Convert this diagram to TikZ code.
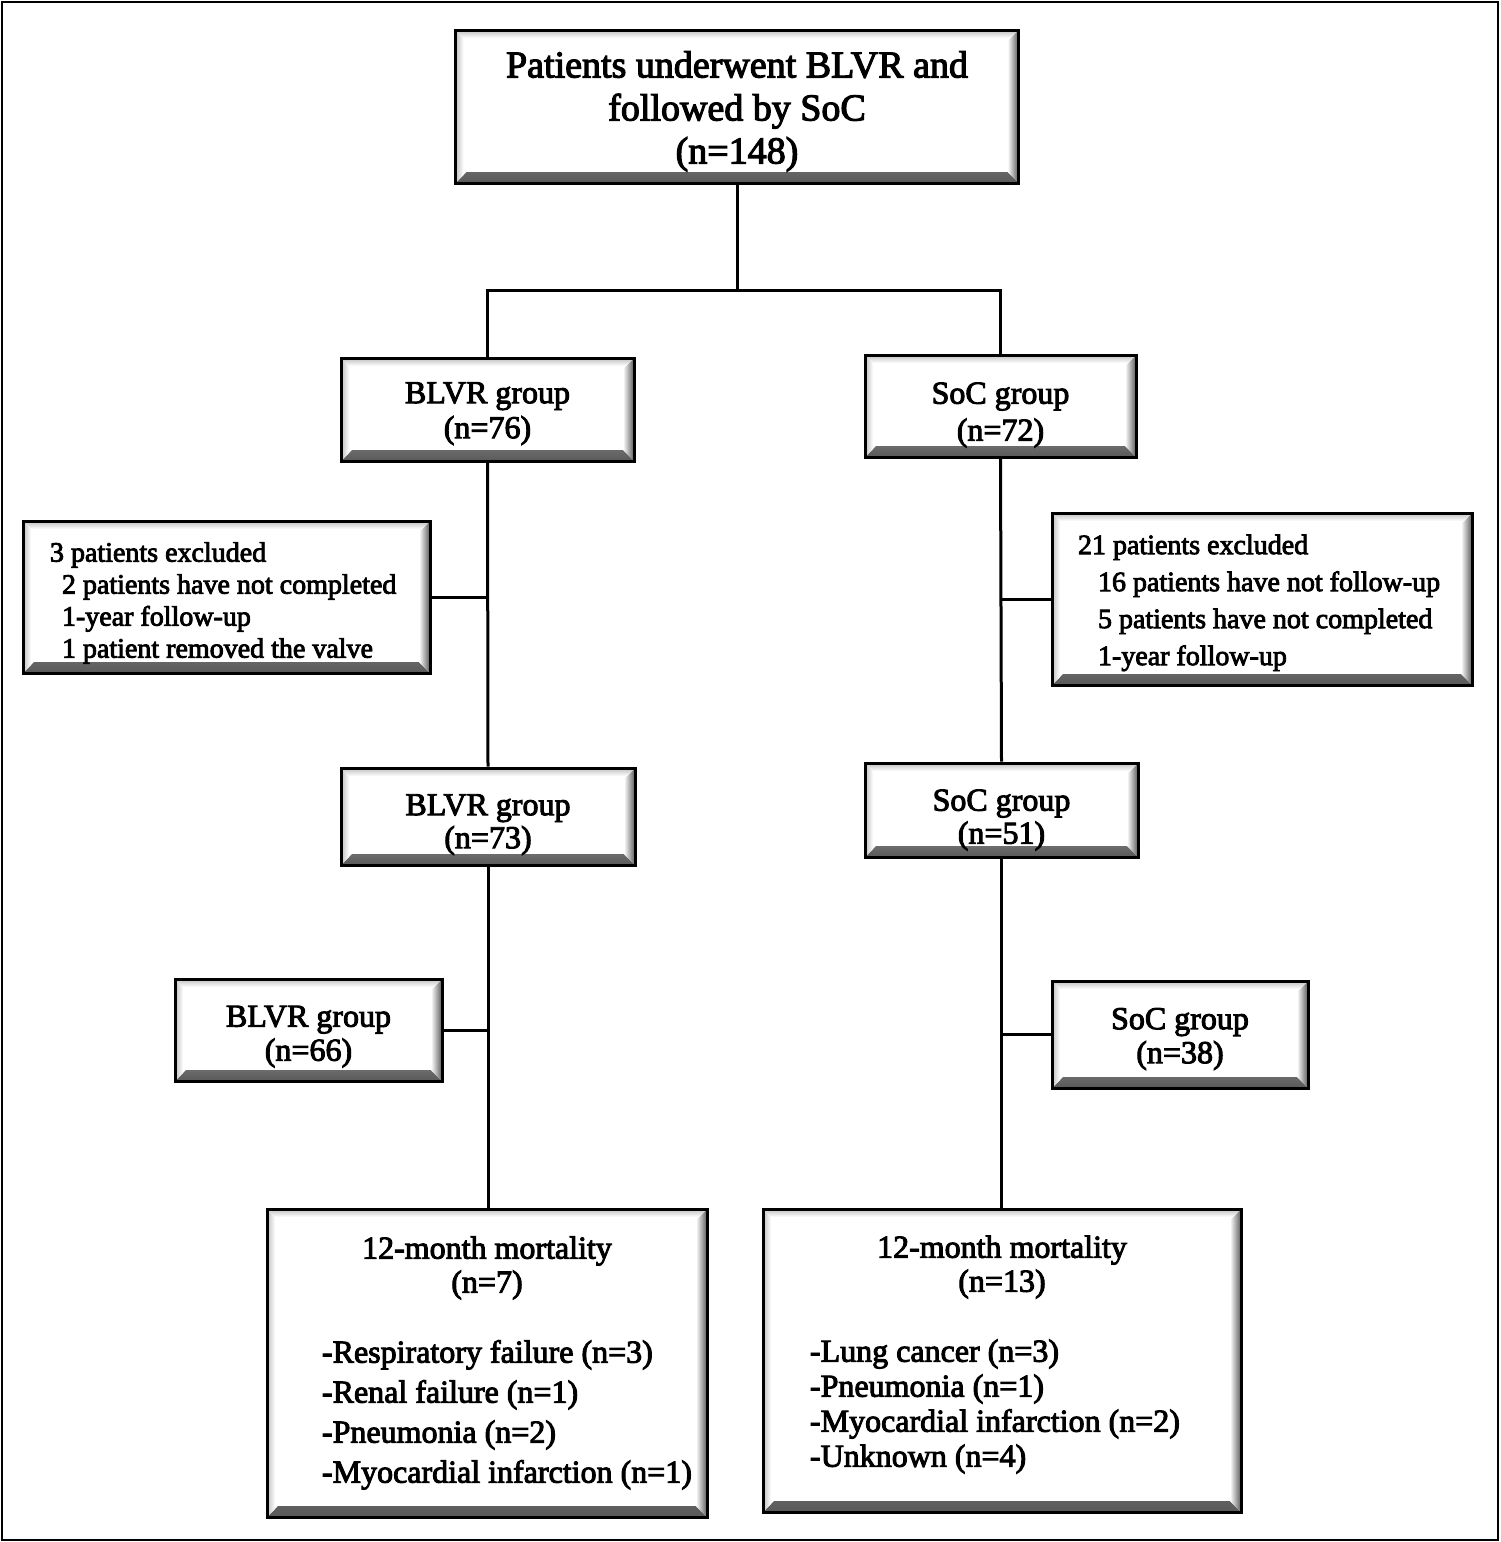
\documentclass[tikz,border=0pt]{standalone}
\usepackage{fontspec}
\setmainfont{Liberation Serif}[FakeBold=3]
\usetikzlibrary{calc}
\newcommand{\hs}[1]{\rule{0pt}{#1}}
\newcommand{\ds}[1]{\rule[-#1]{0pt}{#1}}
\tikzset{
  bevel/.style={path picture={
    \shade[top color=white,bottom color=black!65]
      (path picture bounding box.south west) -- (path picture bounding box.south east)
      -- ([xshift=-5.5pt,yshift=5.5pt]path picture bounding box.south east)
      -- ([xshift=5.5pt,yshift=5.5pt]path picture bounding box.south west) -- cycle;
    \shade[left color=white,right color=black!65]
      (path picture bounding box.north east) -- (path picture bounding box.south east)
      -- ([xshift=-5.5pt,yshift=5.5pt]path picture bounding box.south east)
      -- ([xshift=-5.5pt,yshift=-5.5pt]path picture bounding box.north east) -- cycle;
    \shade[top color=black!25,bottom color=white]
      (path picture bounding box.north west) -- (path picture bounding box.north east)
      -- ([xshift=-4pt,yshift=-4pt]path picture bounding box.north east)
      -- ([xshift=4pt,yshift=-4pt]path picture bounding box.north west) -- cycle;
    \shade[left color=black!25,right color=white]
      (path picture bounding box.north west) -- (path picture bounding box.south west)
      -- ([xshift=4pt,yshift=4pt]path picture bounding box.south west)
      -- ([xshift=4pt,yshift=-4pt]path picture bounding box.north west) -- cycle;
  }},
  box/.style={draw, line width=1.5pt, fill=white, inner sep=0pt, align=center, bevel},
  grp/.style={box, font=\fontsize{16}{#1}\selectfont},
  grp/.default=17.5pt,
  conn/.style={line width=1.5pt},
}
\begin{document}
\begin{tikzpicture}[x=0.5pt,y=-0.5pt]
\useasboundingbox (0,0) rectangle (1500,1542);
\draw[line width=1pt] (1.5,1.5) rectangle (1497.5,1540);

\node[box, minimum width=281.5pt, minimum height=76.5pt, font=\fontsize{19}{21.5}\selectfont]
  (top) at (737,106.5) {\hs{18pt}Patients underwent BLVR and\\followed by SoC\\(n=148)};

\node[grp, minimum width=146.5pt, minimum height=51.5pt] (b1) at (487.5,409.5) {\hs{14.6pt}BLVR group\\(n=76)};
\node[grp=18.5pt, minimum width=135.5pt, minimum height=51pt] (s1) at (1000.5,406) {\hs{19.6pt}SoC group\\(n=72)};

\node[box, minimum width=203.5pt, minimum height=76pt, font=\fontsize{14}{16}\selectfont]
  (ex1) at (226.5,597) {\makebox[176.5pt][l]{\hs{15.6pt}3 patients excluded}\\
  \makebox[176.5pt][l]{\hspace{6pt}2 patients have not completed}\\
  \makebox[176.5pt][l]{\hspace{6pt}1-year follow-up}\\
  \makebox[176.5pt][l]{\hspace{6pt}1 patient removed the valve}};

\node[box, minimum width=210pt, minimum height=86pt, font=\fontsize{14}{18.5}\selectfont]
  (ex2) at (1262,599) {\makebox[184pt][l]{\hs{13.6pt}21 patients excluded}\\
  \makebox[184pt][l]{\hspace{10pt}16 patients have not follow-up}\\
  \makebox[184pt][l]{\hspace{10pt}5 patients have not completed}\\
  \makebox[184pt][l]{\hspace{10pt}1-year follow-up}};

\node[grp=16.5pt, minimum width=147pt, minimum height=48.5pt] (b2) at (488,816.5) {\hs{18.6pt}BLVR group\\(n=73)};
\node[grp=16.5pt, minimum width=136.5pt, minimum height=47pt] (s2) at (1001.5,810) {\hs{20.6pt}SoC group\\(n=51)};

\node[grp=17pt, minimum width=133.5pt, minimum height=51pt] (b3) at (308.5,1030) {\hs{17.1pt}BLVR group\\(n=66)};
\node[grp=17pt, minimum width=128pt, minimum height=53.5pt] (s3) at (1180,1034.5) {\hs{15.1pt}SoC group\\(n=38)};

\node[grp=17pt, minimum width=220pt, minimum height=154pt] (m1) at (487,1363)
  {12-month mortality\\(n=7)\\[18pt]
  \makebox[165pt][l]{-Respiratory failure (n=3)}\\[3pt]
  \makebox[165pt][l]{-Renal failure (n=1)}\\[3pt]
  \makebox[165pt][l]{-Pneumonia (n=2)}\\[3pt]
  \makebox[165pt][l]{-Myocardial infarction (n=1)}};

\node[grp=17pt, minimum width=239pt, minimum height=151.5pt] (m2) at (1002,1360.5)
  {12-month mortality\\(n=13)\\[18pt]
  \makebox[192pt][l]{-Lung cancer (n=3)}\\[0.5pt]
  \makebox[192pt][l]{-Pneumonia (n=1)}\\[0.5pt]
  \makebox[192pt][l]{-Myocardial infarction (n=2)}\\[0.5pt]
  \makebox[192pt][l]{\ds{9.4pt}-Unknown (n=4)}};

\coordinate (j0) at (737,290);
\coordinate (jL) at (487.5,290);
\coordinate (jR) at (1000.5,290);
\draw[conn] (top.south) -- (j0);
\draw[conn] (b1.north) -- (jL) -- (jR) -- (s1.north);
\draw[conn] (b1.south) -- (b2.north);
\draw[conn] (s1.south) -- (s2.north);
\draw[conn] (ex1.east) -- (ex1.east -| b1.south);
\draw[conn] (ex2.west) -- (ex2.west -| s1.south);
\draw[conn] (b2.south) -- (b2.south |- m1.north);
\draw[conn] (s2.south) -- (s2.south |- m2.north);
\draw[conn] (b3.east) -- (b3.east -| b2.south);
\draw[conn] (s3.west) -- (s3.west -| s2.south);
\end{tikzpicture}
\end{document}
